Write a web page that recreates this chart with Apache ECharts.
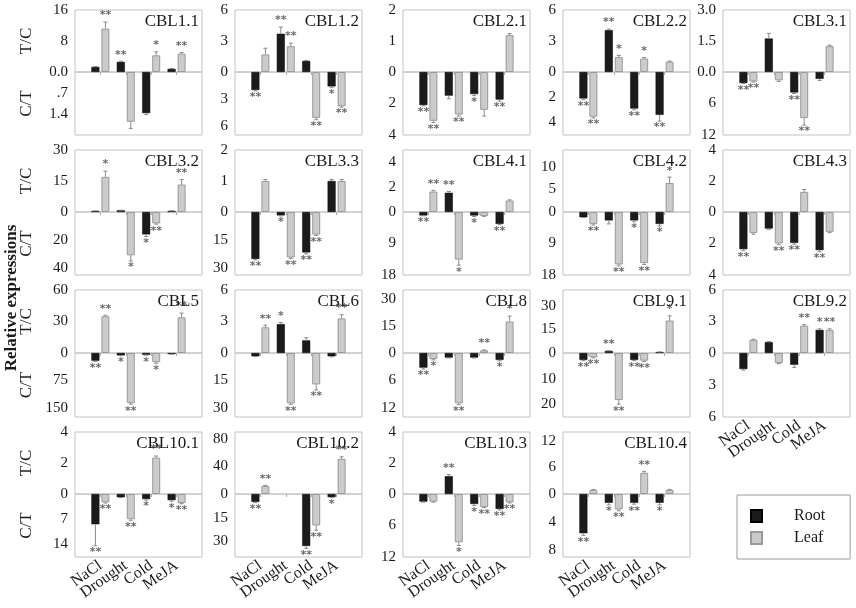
<!DOCTYPE html>
<html lang="en">
<head>
    <meta charset="UTF-8">
    <title>CBL relative expressions</title>
    <script src="https://cdn.jsdelivr.net/npm/echarts@6.0.0/dist/echarts.min.js"></script>
    <style>
        html, body { margin: 0; padding: 0; background: #fff; }
        #chart { width: 856px; height: 608px; }
    </style>
</head>
<body>
    <div id="chart"></div>
    <script>
        // 基因与处理
        const genes = ['CBL1.1', 'CBL1.2', 'CBL2.1', 'CBL2.2', 'CBL3.1',
                       'CBL3.2', 'CBL3.3', 'CBL4.1', 'CBL4.2', 'CBL4.3',
                       'CBL5', 'CBL6', 'CBL8', 'CBL9.1', 'CBL9.2',
                       'CBL10.1', 'CBL10.2', 'CBL10.3', 'CBL10.4'];
        const conditions = ['NaCl', 'Drought', 'Cold', 'MeJA'];

        // 正值 = T/C (上半), 负值 = C/T (下半)
        const rootValues = [
            [1.3, 2.6, -1.37, 0.8], [-2.0, 3.7, 1.07, -1.6], [-2.1, -1.5, -1.4, -1.75], [-2.1, 4.05, -2.9, -3.4], [-2.1, 1.62, -3.9, -1.3],
            [0.5, 0.8, -16, 0.5], [-25, -1.8, -21.5, 1.0], [-1.0, 1.55, -1.0, -3.4], [-1.5, -2.4, -2.4, -3.4], [-2.36, -1.05, -1.96, -2.42],
            [-21, -6.5, -5, -3], [-1.8, 2.75, 1.2, -1.8], [-3.2, -1.0, -1.0, -1.5], [-2.7, 1.3, -2.7, 0.6], [-1.5, 1.04, -1.1, 2.2],
            [-8.4, -0.9, -1.4, -1.7], [-5, 0, -33, -2], [-1.45, 1.15, -1.9, -2.85], [-5.6, -1.25, -1.25, -1.25]
        ];
        const leafValues = [
            [11.2, -1.66, 4.3, 4.75], [1.7, 2.5, -5.1, -3.8], [-3.1, -2.7, -2.4, 1.19], [-3.55, 1.45, 1.3, 1.0], [-1.8, -1.6, -8.8, 1.25],
            [17, -31, -8.2, 13.3], [1.0, -24.2, -12, 1.0], [1.65, -13.6, -1.15, 0.93], [-3.4, -15, -14.6, 6.4], [-1.33, -2.0, 1.3, -1.26],
            [35, -137, -25, 34], [2.45, -27.5, -17.2, 3.3], [-1.3, -11, 1.5, 17.5], [-1.7, -18.4, -3, 20.6], [1.26, -0.95, 2.6, 2.2],
            [-2.3, -7, 2.35, -2.5], [11.5, 0, -20, 51], [-1.45, -9.2, -2.5, -1.6], [0.93, -2.2, 4.8, 0.93]
        ];
        const rootErrors = [
            [0.1, 0.2, 0.05, 0.1], [0.1, 0.65, 0.05, 0.1], [0.05, 0.2, 0.1, 0.1], [0.1, 0.1, 0.1, 0.5], [0.1, 0.25, 0.2, 0.3],
            [0.1, 0.1, 1.5, 0.1], [0.5, 0.3, 0.8, 0.05], [0.1, 0.1, 0.3, 0.2], [0.1, 1.0, 0.4, 0.6], [0.1, 0.05, 0.08, 0.1],
            [2, 1, 1, 0.5], [0.2, 0.15, 0.25, 0.3], [0.3, 0.1, 0.1, 0.2], [0.3, 0.2, 0.3, 0.1], [0.1, 0.05, 0.25, 0.1],
            [6, 0.1, 0.3, 0.3], [0.5, 0, 1.5, 0.3], [0.1, 0.1, 0.3, 0.2], [0.3, 0.3, 0.2, 0.3]
        ];
        const leafErrors = [
            [1.7, 0.22, 0.9, 0.3], [0.6, 0.3, 0.2, 0.1], [0.1, 0.1, 0.4, 0.05], [0.1, 0.15, 0.1, 0.05], [0.1, 0.2, 1.3, 0.05],
            [2.8, 4, 0.5, 2.4], [0.05, 0.5, 0.5, 0.05], [0.1, 1.6, 0.1, 0.05], [0.3, 0.4, 0.4, 1.3], [0.08, 0.08, 0.15, 0.05],
            [1, 3, 3, 4], [0.2, 0.6, 3, 0.35], [0.2, 0.3, 0.2, 3], [0.2, 1.6, 0.3, 3], [0.05, 0.05, 0.1, 0.1],
            [0.2, 0.3, 0.1, 0.2], [1, 0, 3, 3], [0.1, 0.6, 0.1, 0.1], [0.1, 0.2, 0.3, 0.1]
        ];
        // 显著性
        const rootStars = [
            ['', '**', '', ''], ['**', '**', '', '*'], ['**', '', '*', '**'], ['**', '**', '**', '**'], ['**', '', '**', ''],
            ['', '', '*', ''], ['**', '*', '**', ''], ['**', '**', '*', '**'], ['', '', '*', '*'], ['**', '', '**', '**'],
            ['**', '*', '*', ''], ['', '*', '', ''], ['**', '', '', '*'], ['**', '**', '**', ''], ['', '', '', '*'],
            ['**', '', '*', '*'], ['**', '', '**', '*'], ['', '**', '*', '**'], ['**', '*', '**', '*']
        ];
        const leafStars = [
            ['**', '', '*', '**'], ['', '**', '**', '**'], ['**', '**', '', ''], ['**', '*', '*', ''], ['**', '', '**', ''],
            ['*', '*', '**', '**'], ['', '**', '**', ''], ['**', '*', '', ''], ['**', '**', '**', '*'], ['', '**', '', ''],
            ['**', '**', '*', '**'], ['**', '**', '**', '**'], ['*', '**', '**', '*'], ['**', '**', '**', '*'], ['', '', '**', '**'],
            ['**', '**', '**', '**'], ['**', '', '**', '**'], ['', '*', '**', '**'], ['', '**', '**', '']
        ];
        // 坐标轴范围与刻度标签
        const upperMax = [16, 6, 2, 6, 3, 30, 2, 5, 13.7, 4, 60, 6, 35, 40, 6, 4, 90, 4, 14];
        const lowerMax = [2.1, 7, 4, 5, 12, 45, 33.5, 18, 18, 4, 175, 35, 14, 25, 6, 17.5, 40, 12, 9];
        const upperTicks = [
            ['8', '16'], ['3', '6'], ['1', '2'], ['3', '6'], ['1.5', '3.0'],
            ['15', '30'], ['1', '2'], ['2', '4'], ['5', '10'], ['2', '4'],
            ['30', '60'], ['3', '6'], ['15', '30'], ['15', '30'], ['3', '6'],
            ['2', '4'], ['40', '80'], ['2', '4'], ['6', '12']
        ];
        const lowerTicks = [
            ['.7', '1.4'], ['3', '6'], ['2', '4'], ['2', '4'], ['6', '12'],
            ['20', '40'], ['15', '30'], ['9', '18'], ['9', '18'], ['2', '4'],
            ['75', '150'], ['15', '30'], ['6', '12'], ['10', '20'], ['3', '6'],
            ['7', '14'], ['15', '30'], ['6', '12'], ['4', '8']
        ];
        const zeroLabels = ['0.0', '0', '0', '0', '0.0', '0', '0', '0', '0', '0',
                            '0', '0', '0', '0', '0', '0', '0', '0', '0'];

        // 版面
        const colLeft = [75, 235, 403, 563, 723];
        const boxWidth = 127;
        const rowTop = [10, 150, 290, 432];
        const rowZero = [72, 212, 353, 494];
        const rowBottom = [135, 275, 417, 557];
        const serif = 'Liberation Serif';
        const ink = '#1a1a1a';

        const grids = [], xAxes = [], yAxes = [], series = [], titles = [];

        function tickAxisLabel(labels, zero) {
            let values = labels.map(s => parseFloat(s));
            let map = {};
            values.forEach((v, k) => { map[v] = labels[k]; });
            if (zero !== undefined) { values = [0, ...values]; map[0] = zero; }
            return {
                customValues: values,
                formatter: v => map[v] !== undefined ? map[v] : '',
                showMinLabel: true, showMaxLabel: true,
                fontFamily: serif, fontSize: 15, color: ink, margin: 7
            };
        }

        // 误差线与星号
        function errorRender(items, down) {
            return function (params, api) {
                let it = items[params.dataIndex];
                let base = api.coord([it.x, it.v]);
                let end = api.coord([it.x, it.v + it.e]);
                let x = base[0] + it.side * 5;
                let children = [];
                if (it.e > 0 && it.v > 0) {
                    children.push({ type: 'line', shape: { x1: x, y1: base[1], x2: x, y2: end[1] }, style: { stroke: '#8a8a8a', lineWidth: 1 } });
                    children.push({ type: 'line', shape: { x1: x - 2, y1: end[1], x2: x + 2, y2: end[1] }, style: { stroke: '#8a8a8a', lineWidth: 1 } });
                }
                if (it.star && it.v > 0) {
                    children.push({
                        type: 'text', x: x, y: end[1] + (down ? 1 : -1),
                        style: { text: it.star, fill: '#6a6a6a', font: 'bold 11px "DejaVu Sans"', align: 'center', verticalAlign: down ? 'top' : 'bottom' }
                    });
                }
                return { type: 'group', children: children };
            };
        }

        genes.forEach((gene, i) => {
            let col = i % 5, row = Math.floor(i / 5);
            let left = colLeft[col];
            let top = rowTop[row], zero = rowZero[row], bottom = rowBottom[row];
            let showX = row === 3 || i === 14;
            let up = 2 * i, dn = 2 * i + 1;

            let gridStyle = { show: true, borderColor: '#c2c2c2', borderWidth: 1, left: left, width: boxWidth };
            grids.push(Object.assign({ top: top, height: zero - top }, gridStyle));
            grids.push(Object.assign({ top: zero, height: bottom - zero }, gridStyle));

            let xUp = xAxes.length;
            xAxes.push({ gridIndex: up, type: 'value', min: 0, max: 5, show: false });
            let xDn = xAxes.length;
            xAxes.push({
                gridIndex: dn, type: 'value', min: 0, max: 5, position: 'bottom',
                axisLine: { show: false },
                splitLine: { show: false },
                axisTick: { show: true, customValues: [1, 2, 3, 4], length: 3, lineStyle: { color: '#aaa' } },
                axisLabel: { show: false }
            });
            // 处理名称 (只在底部面板显示)
            if (showX) {
                xAxes.push({
                    gridIndex: dn, type: 'category', boundaryGap: false, position: 'bottom', offset: 0,
                    data: ['', ...conditions, ''],
                    axisLine: { show: false }, axisTick: { show: false }, splitLine: { show: false },
                    axisLabel: { interval: 0, rotate: 35, fontFamily: serif, fontSize: 16, color: ink, margin: 7 }
                });
            }

            let upperAxis = {
                gridIndex: up, type: 'value', min: 0, max: upperMax[i],
                axisLine: { show: false }, axisTick: { show: false }, splitLine: { show: false },
                axisLabel: tickAxisLabel(upperTicks[i], zeroLabels[i])
            };
            let lowerAxis = {
                gridIndex: dn, type: 'value', min: 0, max: lowerMax[i], inverse: true,
                axisLine: { show: false }, axisTick: { show: false }, splitLine: { show: false },
                axisLabel: tickAxisLabel(lowerTicks[i])
            };
            if (col === 0) {
                let nameStyle = { nameLocation: 'middle', nameGap: 40, nameTextStyle: { fontFamily: serif, fontSize: 17, color: ink } };
                Object.assign(upperAxis, { name: 'T/C' }, nameStyle);
                Object.assign(lowerAxis, { name: 'C/T' }, nameStyle);
            }
            yAxes.push(upperAxis, lowerAxis);

            titles.push({
                text: gene, right: 856 - (left + boxWidth) + 3, top: top + 3, padding: 0,
                textStyle: { fontFamily: serif, fontSize: 17, fontWeight: 'normal', color: ink }
            });

            [[xUp, up, 1, false], [xDn, dn, -1, true]].forEach(([xi, yi, sign, down]) => {
                let pick = arr => arr.map((v, j) => [j + 1, v * sign > 0 ? v * sign : '-']);
                series.push({
                    name: 'Root', type: 'bar', xAxisIndex: xi, yAxisIndex: yi,
                    barWidth: 8, barGap: '25%',
                    itemStyle: { color: '#1b1b1b', borderColor: '#000', borderWidth: 0.5 },
                    data: pick(rootValues[i])
                });
                series.push({
                    name: 'Leaf', type: 'bar', xAxisIndex: xi, yAxisIndex: yi,
                    barWidth: 8, barGap: '25%',
                    itemStyle: { color: '#cbcbcb', borderColor: '#9a9a9a', borderWidth: 1 },
                    data: pick(leafValues[i])
                });
                let items = [];
                conditions.forEach((c, j) => {
                    items.push({ x: j + 1, side: -1, v: rootValues[i][j] * sign, e: rootErrors[i][j], star: rootStars[i][j] });
                    items.push({ x: j + 1, side: 1, v: leafValues[i][j] * sign, e: leafErrors[i][j], star: leafStars[i][j] });
                });
                series.push({
                    name: 'err', type: 'custom', xAxisIndex: xi, yAxisIndex: yi, clip: false, silent: true, z: 3,
                    renderItem: errorRender(items, down),
                    data: items.map(it => [it.x, Math.max(it.v, 0)])
                });
            });
        });

        let chart = echarts.init(document.getElementById('chart'));
        chart.setOption({
            animation: false,
            title: titles,
            grid: grids,
            xAxis: xAxes,
            yAxis: yAxes,
            series: series,
            legend: {
                data: ['Root', 'Leaf'],
                orient: 'vertical', left: 737, top: 495,
                icon: 'rect', itemWidth: 11, itemHeight: 12, itemGap: 6,
                padding: [13, 25, 13, 13],
                borderColor: '#9a9a9a', borderWidth: 1,
                selectedMode: false,
                textStyle: { fontFamily: serif, fontSize: 16, color: ink, padding: [0, 0, 0, 27] }
            },
            graphic: [{
                type: 'text', x: 12, y: 298, rotation: Math.PI / 2,
                style: { text: 'Relative expressions', font: 'bold 17px "Liberation Serif"', fill: ink, align: 'center', verticalAlign: 'middle' }
            }]
        });
    </script>
</body>
</html>
